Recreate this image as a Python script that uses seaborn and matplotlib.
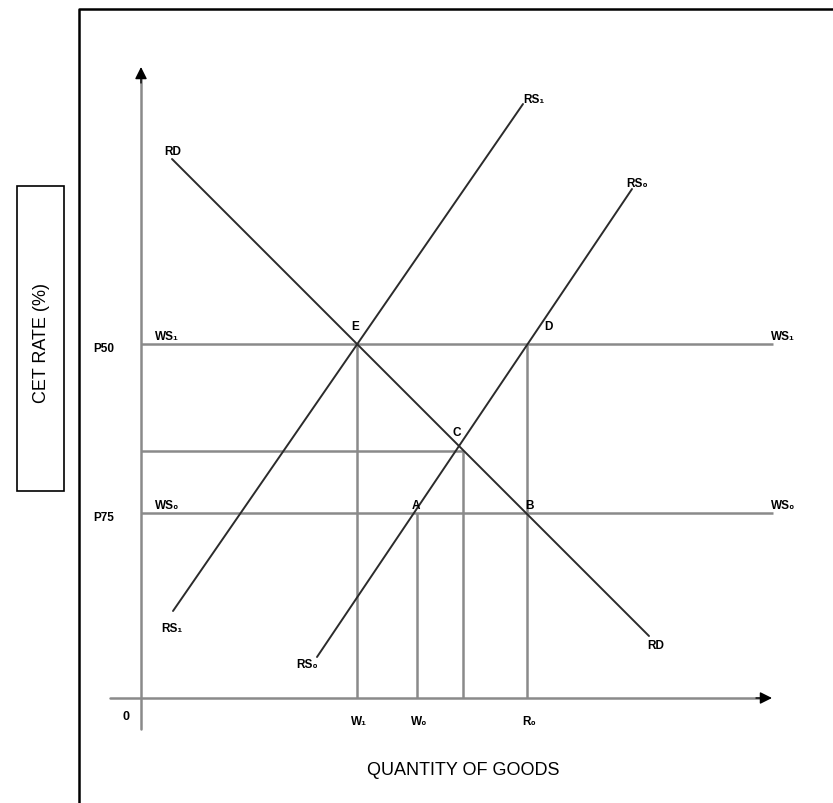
import matplotlib
matplotlib.use('Agg')
import matplotlib.pyplot as plt
import seaborn as sns
import pandas as pd
from matplotlib.patches import Rectangle

# values (1 unit ~ 10 px)
q_labels = ['W₁', 'W₀', 'R₀']
q_ticks = [21.6, 27.6, 38.6]
q_c = 32.2
rate_labels = ['P50', 'P75']
rate_ticks = [35.4, 18.5]
rate_c = 24.7

ws_names = ['WS₁', 'WS₀']
ws_end = 63.2

curve_names = ['RD', 'RS₁', 'RS₀']
curve_x0 = [3.1, 3.2, 17.6]
curve_y0 = [53.9, 8.7, 4.1]
curve_x1 = [50.8, 38.2, 49.1]
curve_y1 = [6.2, 59.4, 50.9]

point_names = ['E', 'D', 'C', 'A', 'B']
point_x = [21.6, 38.6, 32.2, 27.6, 38.6]
point_y = [35.4, 35.4, 24.7, 18.5, 18.5]

sns.set_theme(style='white')
plt.rcParams['font.family'] = ['Liberation Sans Narrow', 'Liberation Sans', 'DejaVu Sans']
plt.rcParams['text.color'] = 'black'

fig = plt.figure(figsize=(8.33, 8.04), dpi=100)
ax = fig.add_axes([0, 0, 1, 1])
ax.set_xlim(-14.1, 69.2)
ax.set_ylim(-10.5, 69.9)
ax.axis('off')

grey = '#8a8a8a'
dark = '#2b2b2b'
small = dict(fontsize=8.5, fontweight='bold', color='black')

# outer frame (runs off the page right and bottom)
ax.plot([-6.2, -6.2, 69.2], [-10.5, 68.9, 68.9], color='black', lw=1.8, clip_on=False)

# axes with black arrow heads
ax.plot([-3.1, 62.0], [0, 0], color=grey, lw=1.8)
ax.plot([0, 0], [-3.1, 62.0], color=grey, lw=1.8)
head = dict(arrowstyle='-|>,head_length=0.6,head_width=0.3', color='black', lw=1,
            mutation_scale=12, shrinkA=0, shrinkB=0)
ax.annotate('', xy=(63.1, 0), xytext=(61.5, 0), arrowprops=head)
ax.annotate('', xy=(0, 63.1), xytext=(0, 61.5), arrowprops=head)

# world supply lines and the C level
ax.hlines(rate_ticks, 0, ws_end, color=grey, lw=1.8)
ax.hlines(rate_c, 0, q_c, color=grey, lw=1.8)

# drop lines to the quantity axis
ax.vlines(q_ticks[0], 0, rate_ticks[0], color=grey, lw=1.8)
ax.vlines(q_ticks[1], 0, rate_ticks[1], color=grey, lw=1.8)
ax.vlines(q_c, 0, rate_c, color=grey, lw=1.8)
ax.vlines(q_ticks[2], 0, rate_ticks[0], color=grey, lw=1.8)

# demand and supply curves
curves = pd.DataFrame({
    'curve': curve_names * 2,
    'x': curve_x0 + curve_x1,
    'y': curve_y0 + curve_y1,
})
sns.lineplot(data=curves, x='x', y='y', units='curve', estimator=None,
             sort=False, color=dark, lw=1.4, ax=ax)

# curve end labels (pixel offsets from the end points)
start_off = {'RD': (1, 8), 'RS₁': (-1, -17), 'RS₀': (-10, -7)}
end_off = {'RD': (7, -9), 'RS₁': (11, 5), 'RS₀': (5, 6)}
for name, x0, y0, x1, y1 in zip(curve_names, curve_x0, curve_y0, curve_x1, curve_y1):
    ax.annotate(name, (x0, y0), xytext=start_off[name], textcoords='offset pixels',
                ha='center', va='center', **small)
    ax.annotate(name, (x1, y1), xytext=end_off[name], textcoords='offset pixels',
                ha='center', va='center', **small)

# WS labels at both ends
for name, y in zip(ws_names, rate_ticks):
    ax.annotate(name, (0, y), xytext=(26, 2), textcoords='offset pixels',
                ha='center', va='bottom', **small)
    ax.annotate(name, (ws_end, y), xytext=(10, 2), textcoords='offset pixels',
                ha='center', va='bottom', **small)

# intersection labels
pt_off = {'E': (-2, 12), 'D': (21, 12), 'C': (-6, 13), 'A': (-1, 2), 'B': (2, 2)}
for name, x, y in zip(point_names, point_x, point_y):
    ax.annotate(name, (x, y), xytext=pt_off[name], textcoords='offset pixels',
                ha='center', va='bottom', **small)

# axis tick labels
for name, y in zip(rate_labels, rate_ticks):
    ax.annotate(name, (0, y), xytext=(-37, -4), textcoords='offset pixels',
                ha='center', va='center', **small)
for name, x in zip(q_labels, q_ticks):
    ax.annotate(name, (x, 0), xytext=(2, -23), textcoords='offset pixels',
                ha='center', va='center', **small)
ax.annotate('0', (0, 0), xytext=(-15, -18), textcoords='offset pixels',
            ha='center', va='center', fontsize=9, fontweight='bold', color='black')

# axis titles
ax.text(32.2, -7.2, 'QUANTITY OF GOODS', ha='center', va='center', color='black',
        fontsize=13, family=['Liberation Sans', 'DejaVu Sans'])
ax.add_patch(Rectangle((-12.4, 20.7), 4.7, 30.5, fill=False, ec='black', lw=1.2))
ax.text(-10.0, 35.6, 'CET RATE (%)', rotation=90, ha='center', va='center',
        color='black', fontsize=13, family=['Liberation Sans', 'DejaVu Sans'])

fig.savefig('out.png', dpi=100)
